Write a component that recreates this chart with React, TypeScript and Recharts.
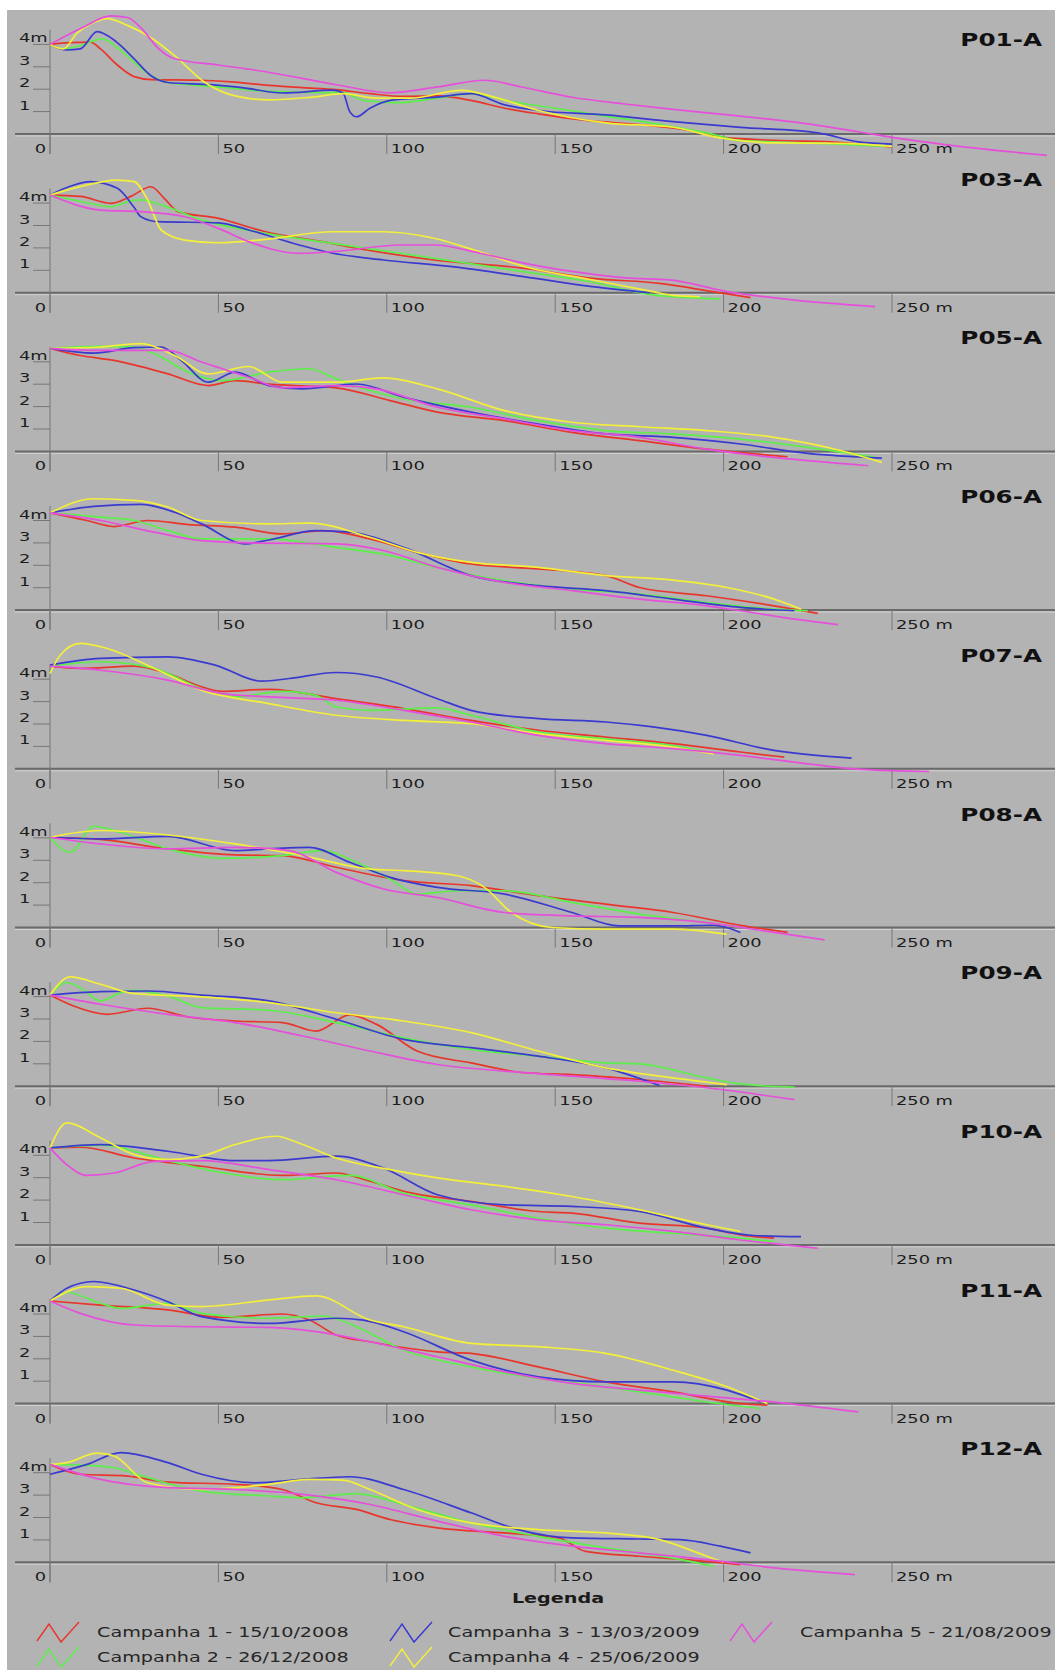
import { LineChart, Line, XAxis, YAxis, ReferenceLine } from 'recharts';

type Pt = [number, number];

const panelNames = ['P01-A', 'P03-A', 'P05-A', 'P06-A', 'P07-A', 'P08-A', 'P09-A', 'P10-A', 'P11-A', 'P12-A'];
const campaigns = [
  'Campanha 1 - 15/10/2008',
  'Campanha 2 - 26/12/2008',
  'Campanha 3 - 13/03/2009',
  'Campanha 4 - 25/06/2009',
  'Campanha 5 - 21/08/2009',
];
const colors = ['#e8362c', '#5cef4a', '#3a3ad0', '#f3ef3a', '#e64fdc'];
const xTicks = [0, 50, 100, 150, 200, 250];
const yTicks = [1, 2, 3, 4];

// distance (m) / elevation (m), one list per campaign
const p01: Pt[][] = [
  [[0, 4.0], [6, 4.08], [12, 4.1], [15, 3.8], [20, 3.08], [25, 2.56], [30, 2.43], [45, 2.4], [55, 2.32], [65, 2.17], [75, 2.07], [85, 1.98], [95, 1.8], [105, 1.68], [115, 1.7], [125, 1.5], [135, 1.15], [145, 0.9], [160, 0.6], [175, 0.42], [188, 0.2], [200, -0.15], [215, -0.28], [235, -0.38], [250, -0.58]],
  [[0, 4.0], [4, 3.8], [9, 3.95], [15.5, 4.25], [20, 3.85], [25, 3.2], [30, 2.6], [35, 2.3], [50, 2.1], [65, 1.9], [80, 1.85], [87, 1.85], [93, 1.5], [103, 1.4], [115, 1.6], [125, 1.8], [137, 1.45], [150, 1.15], [165, 0.8], [180, 0.45], [195, 0.05], [205, -0.3], [225, -0.4], [248, -0.55]],
  [[0, 4.0], [5, 3.75], [9, 3.8], [14, 4.57], [17, 4.4], [21, 3.95], [25, 3.35], [30, 2.6], [35, 2.3], [48, 2.2], [58, 2.05], [69, 1.83], [84, 1.96], [87, 1.83], [89, 1.0], [91, 0.77], [95, 1.15], [101, 1.5], [115, 1.65], [125, 1.8], [135, 1.3], [145, 1.05], [165, 0.85], [185, 0.55], [205, 0.3], [228, 0.05], [240, -0.35], [250, -0.45]],
  [[0, 4.0], [4, 3.8], [8, 4.5], [12, 4.9], [17, 5.15], [23, 4.85], [30, 4.3], [37, 3.5], [46, 2.3], [55, 1.7], [65, 1.52], [78, 1.65], [87, 1.8], [97, 1.6], [107, 1.6], [122, 1.95], [133, 1.6], [145, 1.05], [165, 0.5], [185, 0.3], [200, -0.2], [215, -0.4], [235, -0.42], [250, -0.55]],
  [[0, 4.0], [10, 4.78], [18, 5.27], [23, 5.2], [27, 4.74], [32, 3.85], [37, 3.36], [50, 3.08], [64, 2.78], [85, 2.2], [101, 1.84], [115, 2.1], [129, 2.4], [140, 2.1], [155, 1.64], [170, 1.35], [185, 1.1], [205, 0.8], [225, 0.45], [240, 0.1], [250, -0.15], [270, -0.55], [296, -0.95]],
];
const p03: Pt[][] = [
  [[0, 4.36], [9, 4.3], [18, 3.99], [24, 4.3], [30, 4.73], [34, 4.2], [38, 3.62], [50, 3.32], [64, 2.72], [80, 2.3], [94, 1.91], [114, 1.46], [141, 1.09], [161, 0.64], [181, 0.42], [200, -0.03], [208, -0.22]],
  [[0, 4.36], [10, 4.05], [18, 3.84], [24, 4.1], [27, 4.14], [33, 3.92], [45, 3.25], [64, 2.65], [84, 2.2], [104, 1.76], [141, 0.93], [160, 0.5], [179, -0.1], [199, -0.28]],
  [[0, 4.36], [6, 4.75], [12, 4.96], [20, 4.66], [25, 3.8], [27, 3.39], [32, 3.17], [50, 3.12], [59, 2.8], [74, 2.13], [84, 1.76], [99, 1.46], [120, 1.15], [141, 0.71], [161, 0.27], [178, 0]],
  [[0, 4.36], [8, 4.7], [20, 5.03], [25, 4.96], [29, 4.14], [33, 2.8], [40, 2.35], [50, 2.23], [64, 2.38], [84, 2.72], [99, 2.72], [114, 2.43], [128, 1.8], [141, 1.16], [160, 0.6], [179, 0.05], [185, -0.12], [193, -0.18]],
  [[0, 4.36], [15, 3.69], [27, 3.62], [40, 3.39], [50, 2.87], [59, 2.28], [74, 1.76], [84, 1.83], [104, 2.13], [114, 2.13], [128, 1.75], [141, 1.31], [155, 0.95], [171, 0.66], [184, 0.57], [201, 0.05], [221, -0.33], [245, -0.62]],
];
const p05: Pt[][] = [
  [[0, 4.6], [9, 4.28], [19, 4.06], [35, 3.46], [47, 2.94], [55, 3.16], [65, 3.0], [85, 2.84], [101, 2.27], [115, 1.75], [135, 1.37], [155, 0.85], [175, 0.48], [195, 0.1], [219, -0.24]],
  [[0, 4.6], [15, 4.69], [25, 4.66], [31, 4.36], [41, 3.54], [51, 3.16], [65, 3.54], [77, 3.69], [85, 3.24], [95, 2.72], [105, 2.34], [125, 1.97], [145, 1.37], [165, 0.93], [185, 0.78], [205, 0.55], [225, 0.18], [245, -0.27]],
  [[0, 4.6], [13, 4.39], [25, 4.63], [33, 4.66], [39, 4.06], [47, 3.09], [55, 3.54], [65, 2.94], [75, 2.79], [91, 3.01], [105, 2.42], [125, 1.75], [145, 1.22], [165, 0.78], [185, 0.63], [205, 0.33], [225, -0.09], [247, -0.3]],
  [[0, 4.6], [15, 4.66], [27, 4.81], [37, 4.28], [47, 3.46], [59, 3.79], [69, 3.09], [85, 3.09], [99, 3.28], [115, 2.79], [135, 1.82], [155, 1.3], [175, 1.1], [195, 0.93], [215, 0.63], [235, 0.03], [247, -0.49]],
  [[0, 4.6], [15, 4.51], [35, 4.51], [45, 3.99], [59, 3.31], [69, 2.84], [85, 2.94], [97, 2.79], [115, 1.97], [135, 1.45], [155, 0.93], [175, 0.63], [195, 0.1], [215, -0.27], [243, -0.64]],
];
const p06: Pt[][] = [
  [[0, 4.34], [11, 4.0], [19, 3.73], [29, 4.0], [41, 3.82], [55, 3.7], [69, 3.4], [81, 3.55], [95, 3.18], [109, 2.58], [125, 2.06], [145, 1.84], [165, 1.54], [175, 1.01], [195, 0.64], [215, 0.19], [228, -0.15]],
  [[0, 4.34], [15, 4.15], [25, 4.0], [35, 3.55], [45, 3.18], [65, 3.18], [85, 2.8], [99, 2.5], [115, 1.91], [135, 1.31], [155, 0.94], [175, 0.72], [195, 0.34], [215, 0.04], [225, -0.03]],
  [[0, 4.34], [13, 4.63], [27, 4.72], [37, 4.37], [45, 3.85], [58, 2.96], [65, 3.13], [79, 3.55], [89, 3.48], [105, 2.8], [125, 1.54], [145, 1.09], [165, 0.87], [185, 0.49], [205, 0.12], [221, -0.03]],
  [[0, 4.34], [13, 4.97], [25, 4.9], [35, 4.6], [45, 4.0], [65, 3.85], [77, 3.88], [95, 3.25], [109, 2.58], [125, 2.13], [145, 1.91], [165, 1.54], [185, 1.34], [201, 1.01], [215, 0.49], [223, 0.04]],
  [[0, 4.34], [15, 4.0], [31, 3.48], [45, 3.1], [61, 2.99], [85, 2.96], [99, 2.66], [115, 1.91], [135, 1.24], [155, 0.87], [175, 0.49], [195, 0.19], [205, -0.03], [219, -0.36], [234, -0.65]],
];
const p07: Pt[][] = [
  [[0, 4.58], [9, 4.48], [25, 4.58], [35, 4.25], [45, 3.66], [51, 3.46], [65, 3.55], [85, 3.13], [105, 2.69], [125, 2.16], [145, 1.72], [165, 1.42], [185, 1.12], [205, 0.75], [218, 0.52]],
  [[0, 4.58], [15, 4.78], [31, 4.48], [45, 3.58], [55, 3.21], [69, 3.46], [79, 3.28], [85, 2.76], [95, 2.61], [115, 2.72], [125, 2.39], [145, 1.64], [165, 1.34], [185, 1.04], [197, 0.7]],
  [[0, 4.63], [15, 4.93], [35, 5.0], [49, 4.63], [63, 3.91], [71, 4.03], [85, 4.3], [97, 4.1], [115, 3.13], [125, 2.61], [145, 2.24], [165, 2.09], [179, 1.87], [195, 1.49], [215, 0.82], [238, 0.48]],
  [[0, 4.25], [3, 5.07], [9, 5.6], [17, 5.37], [31, 4.48], [45, 3.51], [65, 2.91], [85, 2.39], [105, 2.16], [125, 2.01], [145, 1.57], [165, 1.27], [185, 0.97], [197, 0.67]],
  [[0, 4.58], [15, 4.4], [35, 3.96], [51, 3.36], [65, 3.21], [85, 3.06], [105, 2.61], [125, 2.09], [145, 1.49], [165, 1.12], [185, 0.9], [205, 0.6], [225, 0.22], [241, -0.03], [261, -0.12]],
];
const p08: Pt[][] = [
  [[0, 4.03], [15, 3.93], [35, 3.51], [55, 3.24], [69, 3.21], [85, 2.69], [105, 2.09], [125, 1.87], [145, 1.42], [165, 1.04], [185, 0.67], [205, 0.1], [219, -0.22]],
  [[0, 4.03], [6, 3.36], [13, 4.52], [21, 4.25], [35, 3.51], [51, 3.09], [69, 3.21], [81, 3.43], [91, 2.91], [101, 2.16], [109, 1.49], [121, 1.64], [135, 1.64], [155, 1.12], [175, 0.6], [195, 0.22], [205, 0]],
  [[0, 4.03], [15, 3.96], [35, 4.07], [55, 3.43], [65, 3.51], [77, 3.58], [89, 2.91], [101, 2.24], [115, 1.79], [135, 1.49], [155, 0.67], [169, 0.07], [185, 0.07], [197, 0.1], [205, -0.22]],
  [[0, 4.03], [15, 4.33], [35, 4.13], [55, 3.73], [75, 3.21], [95, 2.61], [105, 2.54], [121, 2.31], [129, 1.79], [137, 0.67], [149, 0], [165, -0.07], [185, -0.07], [201, -0.3]],
  [[0, 4.03], [15, 3.73], [35, 3.51], [55, 3.58], [71, 3.43], [85, 2.46], [99, 1.72], [115, 1.34], [135, 0.67], [155, 0.52], [175, 0.45], [195, 0.22], [215, -0.22], [230, -0.55]],
];
const p09: Pt[][] = [
  [[0, 4.07], [7, 3.58], [17, 3.21], [29, 3.48], [41, 3.09], [55, 2.91], [69, 2.84], [79, 2.46], [89, 3.18], [97, 2.76], [109, 1.57], [125, 1.04], [141, 0.6], [155, 0.52], [175, 0.3], [195, 0]],
  [[0, 4.07], [5, 4.63], [9, 4.4], [15, 3.81], [21, 4.18], [25, 4.28], [35, 4.03], [45, 3.51], [65, 3.39], [85, 2.84], [105, 2.16], [125, 1.64], [145, 1.34], [165, 1.04], [175, 1.0], [195, 0.37], [205, 0.1], [221, -0.04]],
  [[0, 4.07], [15, 4.22], [29, 4.25], [45, 4.07], [65, 3.81], [85, 2.99], [105, 2.09], [125, 1.72], [145, 1.34], [165, 0.82], [181, 0.03]],
  [[0, 4.07], [6, 4.88], [15, 4.55], [25, 4.13], [45, 3.99], [65, 3.73], [85, 3.28], [105, 2.91], [125, 2.39], [145, 1.57], [165, 0.82], [185, 0.37], [201, 0.07]],
  [[0, 4.07], [15, 3.66], [35, 3.21], [55, 2.84], [75, 2.24], [95, 1.57], [115, 0.97], [135, 0.67], [155, 0.45], [175, 0.22], [195, -0.07], [221, -0.6]],
];
const p10: Pt[][] = [
  [[0, 4.33], [9, 4.36], [25, 3.88], [45, 3.51], [69, 3.1], [85, 3.21], [95, 2.84], [105, 2.39], [125, 1.94], [145, 1.49], [155, 1.42], [175, 0.97], [195, 0.75], [205, 0.45], [215, 0.3]],
  [[0, 4.33], [15, 4.45], [35, 3.76], [49, 3.28], [69, 2.91], [89, 3.1], [105, 2.31], [125, 1.79], [145, 1.19], [165, 0.75], [185, 0.52], [205, 0.3], [215, 0.15]],
  [[0, 4.33], [15, 4.48], [35, 4.18], [55, 3.76], [65, 3.76], [85, 3.96], [99, 3.43], [115, 2.24], [135, 1.79], [155, 1.72], [175, 1.49], [195, 0.75], [209, 0.42], [223, 0.37]],
  [[0, 4.33], [5, 5.45], [15, 4.78], [25, 4.03], [35, 3.81], [45, 3.96], [55, 4.48], [67, 4.85], [75, 4.48], [85, 3.88], [101, 3.36], [115, 2.99], [135, 2.61], [155, 2.16], [175, 1.57], [195, 0.9], [205, 0.6]],
  [[0, 4.33], [5, 3.58], [11, 3.1], [19, 3.21], [31, 3.73], [45, 3.76], [65, 3.36], [85, 2.91], [105, 2.24], [125, 1.57], [145, 1.12], [165, 0.9], [185, 0.6], [205, 0.22], [228, -0.15]],
];
const p11: Pt[][] = [
  [[0, 4.58], [15, 4.4], [35, 4.18], [51, 3.85], [69, 4.0], [77, 3.73], [85, 3.06], [95, 2.76], [115, 2.31], [125, 2.24], [145, 1.64], [165, 0.97], [185, 0.52], [205, 0], [213, -0.07]],
  [[0, 4.58], [5, 4.96], [15, 4.48], [21, 4.25], [35, 4.48], [45, 4.03], [65, 3.81], [81, 3.91], [91, 3.43], [105, 2.39], [125, 1.64], [145, 1.12], [165, 0.75], [185, 0.3], [195, 0.07], [211, -0.22]],
  [[0, 4.58], [5, 5.15], [13, 5.45], [25, 5.07], [35, 4.55], [45, 3.88], [65, 3.58], [85, 3.81], [93, 3.73], [105, 3.21], [125, 1.94], [145, 1.19], [165, 0.97], [185, 0.97], [201, 0.6], [211, 0.07]],
  [[0, 4.58], [11, 5.22], [21, 5.15], [35, 4.4], [45, 4.33], [65, 4.63], [79, 4.81], [95, 3.73], [105, 3.43], [125, 2.69], [145, 2.54], [165, 2.24], [185, 1.49], [201, 0.75], [213, 0]],
  [[0, 4.58], [9, 4.03], [25, 3.51], [45, 3.43], [65, 3.4], [79, 3.21], [95, 2.76], [115, 2.09], [135, 1.42], [155, 0.9], [175, 0.6], [195, 0.33], [215, 0.07], [240, -0.37]],
];
const p12: Pt[][] = [
  [[0, 4.37], [9, 3.93], [23, 3.85], [35, 3.58], [55, 3.48], [69, 3.25], [79, 2.66], [91, 2.36], [101, 1.91], [115, 1.54], [135, 1.31], [151, 1.09], [159, 0.49], [175, 0.27], [195, 0.04], [205, -0.1]],
  [[0, 4.37], [11, 4.33], [19, 4.22], [29, 3.78], [45, 3.18], [65, 2.96], [75, 2.88], [91, 3.07], [105, 2.58], [125, 1.76], [145, 1.16], [165, 0.64], [185, 0.19], [197, -0.18]],
  [[0, 3.93], [11, 4.37], [21, 4.9], [35, 4.45], [45, 3.93], [61, 3.55], [75, 3.7], [89, 3.82], [105, 3.25], [125, 2.21], [139, 1.46], [155, 1.09], [175, 1.04], [187, 1.01], [199, 0.72], [208, 0.42]],
  [[0, 4.37], [5, 4.45], [14, 4.87], [19, 4.75], [29, 3.55], [45, 3.25], [65, 3.48], [77, 3.7], [87, 3.67], [95, 3.25], [109, 2.36], [125, 1.76], [145, 1.46], [165, 1.31], [181, 1.01], [195, 0.27], [200, 0]],
  [[0, 4.37], [15, 3.7], [35, 3.33], [55, 3.25], [75, 3.03], [95, 2.58], [115, 1.84], [135, 1.16], [155, 0.72], [175, 0.42], [195, 0.12], [215, -0.25], [239, -0.55]],
];

const panels = [p01, p03, p05, p06, p07, p08, p09, p10, p11, p12];

// page geometry
const W = 1055;
const H = 1670;
const BG_LEFT = 7;
const BG_TOP = 10;
const AXIS0 = 134; // page y of the first zero line
const STEP = 158.7;
const PX_X = 3.368; // px per metre, horizontal
const PX_Y = 22.4; // px per metre, vertical
const ORIGIN_X = 50;
const PLOT_LEFT = 15;
const SX = 1.37; // the source text is stretched sideways

const xDomain: [number, number] = [-(ORIGIN_X - PLOT_LEFT) / PX_X, (W - ORIGIN_X) / PX_X];
const tickDepth = 20 / PX_Y;
const yTickLen = 17 / PX_X;

const font = 'DejaVu Sans, Verdana, sans-serif';
const axisGray = '#777';

const xTickLabel = (v: number) => (p: any) => {
  const vb = p.viewBox ?? { x: 0, y: 0 };
  const zero = v === 0;
  return (
    <text
      transform={`translate(${zero ? vb.x - 4 : vb.x + 4},${vb.y + 19}) scale(${SX},1)`}
      textAnchor={zero ? 'end' : 'start'}
      fontFamily={font}
      fontSize={13}
      fill="#1c1c1c"
    >
      {v === 250 ? '250 m' : String(v)}
    </text>
  );
};

const yTickLabel = (v: number) => (p: any) => {
  const vb = p.viewBox ?? { x: 0, y: 0 };
  return (
    <text
      transform={`translate(${vb.x - 14},${vb.y - 2}) scale(${SX},1)`}
      fontFamily={font}
      fontSize={13}
      fill="#1c1c1c"
    >
      {v === 4 ? '4m' : String(v)}
    </text>
  );
};

function Panel({ idx }: { idx: number }) {
  const axisY = AXIS0 + STEP * idx;
  const top = Math.round(axisY - 134);
  const bottom = Math.round(axisY + 34.7);
  const h = bottom - top;
  const yMax = (axisY - top) / PX_Y;
  const yMin = yMax - h / PX_Y;
  const series = panels[idx];
  return (
    <div style={{ position: 'absolute', left: BG_LEFT, top, width: W - BG_LEFT, height: h }}>
      <LineChart width={W - BG_LEFT} height={h} margin={{ top: 0, right: 0, bottom: 0, left: PLOT_LEFT - BG_LEFT }}>
        <XAxis type="number" dataKey="x" domain={xDomain} allowDataOverflow hide />
        <YAxis type="number" domain={[yMin, yMax]} allowDataOverflow hide />
        <ReferenceLine y={-2 / PX_Y} stroke="#d2d2d2" strokeWidth={1} />
        <ReferenceLine y={0} stroke="#6a6a6a" strokeWidth={2} />
        <ReferenceLine segment={[{ x: 0, y: -tickDepth }, { x: 0, y: 4.65 }]} stroke={axisGray} strokeWidth={1} />
        {xTicks.map((v) => (
          <ReferenceLine
            key={`x${v}`}
            segment={[{ x: v, y: 0 }, { x: v, y: -tickDepth }]}
            stroke={axisGray}
            strokeWidth={1}
            label={xTickLabel(v)}
          />
        ))}
        {yTicks.map((v) => (
          <ReferenceLine
            key={`y${v}`}
            segment={[{ x: -yTickLen, y: v }, { x: 0, y: v }]}
            stroke={axisGray}
            strokeWidth={1}
            label={yTickLabel(v)}
          />
        ))}
        {series.map((pts, i) => (
          <Line
            key={i}
            data={pts.map(([x, y]) => ({ x, y }))}
            dataKey="y"
            type="monotone"
            stroke={colors[i]}
            strokeWidth={1.7}
            dot={false}
            activeDot={false}
            isAnimationActive={false}
          />
        ))}
      </LineChart>
    </div>
  );
}

const legendCols = [
  { icon: 37, text: 97 },
  { icon: 390, text: 448 },
  { icon: 730, text: 800 },
];
const legendRows = [1637, 1662];
// campaign order placed column by column, two rows
const legendSlots = [
  [0, 0],
  [0, 1],
  [1, 0],
  [1, 1],
  [2, 0],
];

export default function App() {
  return (
    <div style={{ position: 'relative', width: W, height: H, background: '#fff', overflow: 'hidden' }}>
      <style>{'body{margin:0;overflow:hidden}'}</style>
      <div style={{ position: 'absolute', left: BG_LEFT, top: BG_TOP, width: W - BG_LEFT, height: H - BG_TOP, background: '#b3b3b3' }} />
      {panels.map((_, i) => (
        <Panel key={i} idx={i} />
      ))}
      <svg width={W} height={H} style={{ position: 'absolute', left: 0, top: 0, pointerEvents: 'none' }}>
        {panelNames.map((name, i) => {
          const axisY = AXIS0 + STEP * i;
          const y = i === 0 ? axisY - 88 : axisY - 107;
          return (
            <text
              key={name}
              transform={`translate(1042,${y}) scale(${SX},1)`}
              textAnchor="end"
              fontFamily={font}
              fontWeight="bold"
              fontSize={18}
              fill="#111"
            >
              {name}
            </text>
          );
        })}
        <text transform={`translate(558,1603) scale(${SX},1)`} textAnchor="middle" fontFamily={font} fontWeight="bold" fontSize={14} fill="#1a1a1a">
          Legenda
        </text>
        {campaigns.map((c, i) => {
          const [col, row] = legendSlots[i];
          const base = legendRows[row];
          const cx = legendCols[col].icon;
          const cy = base - 5;
          return (
            <g key={c}>
              <polyline
                points={`${cx},${cy + 9} ${cx + 12},${cy - 8} ${cx + 24},${cy + 10} ${cx + 42},${cy - 10}`}
                fill="none"
                stroke={colors[i]}
                strokeWidth={1.4}
              />
              <text transform={`translate(${legendCols[col].text},${base}) scale(${SX},1)`} fontFamily={font} fontSize={14} fill="#262626">
                {c}
              </text>
            </g>
          );
        })}
      </svg>
    </div>
  );
}
